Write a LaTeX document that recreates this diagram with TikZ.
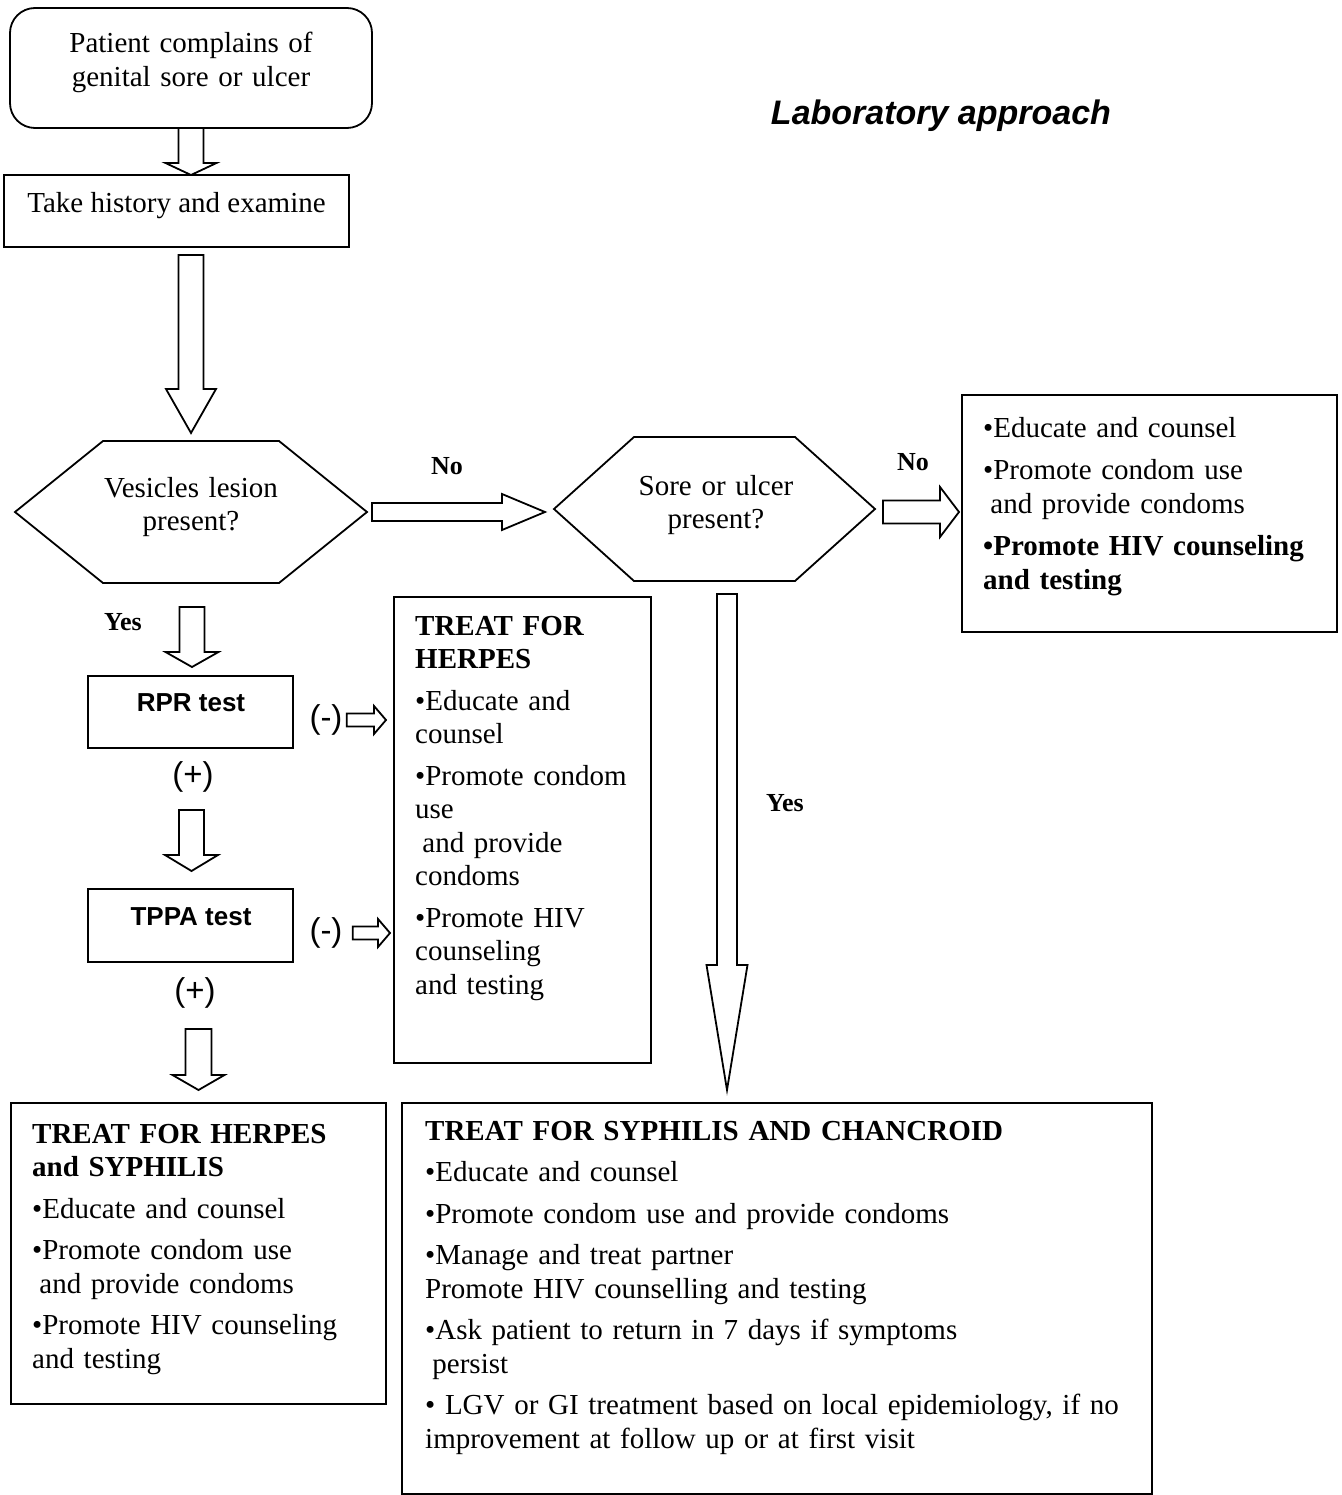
\documentclass[tikz,border=0pt]{standalone}
\usepackage{fontspec}
\setmainfont{Liberation Serif}
\newfontfamily\arialfont{Liberation Sans}
\usetikzlibrary{calc}

\tikzstyle{block} = [rectangle, draw, line width=1.8pt, inner sep=0pt, outer sep=0pt]
\tikzstyle{every node}=[font=\fontsize{29}{33.5}\selectfont]
\tikzstyle{boxtext} = [anchor=base west, align=left, inner sep=0pt]
\tikzstyle{centertext} = [anchor=base, align=center, inner sep=0pt]
\tikzstyle{branch} = [inner sep=0pt, font=\fontsize{26}{30}\selectfont\bfseries]
\tikzstyle{sign} = [inner sep=0pt, font=\fontsize{33}{38}\selectfont\arialfont]
\tikzstyle{testname} = [inner sep=0pt, font=\fontsize{26}{30}\selectfont\arialfont\bfseries]
\tikzstyle{hollow} = [draw, line width=1.8pt, line join=miter]

% hexagon drawn round a (frameless) node: name, corner cut
\newcommand{\hexframe}[2]{%
  \draw[hollow] (#1.west) -- ($(#1.north west)+(#2,0)$) -- ($(#1.north east)+(-#2,0)$)
    -- (#1.east) -- ($(#1.south east)+(-#2,0)$) -- ($(#1.south west)+(#2,0)$) -- cycle;}
% hollow block arrows: from, to, half shaft, half head, head length
\newcommand{\blockdown}[5]{%
  \draw[hollow] let \p1=#1, \p2=#2 in
    (\x1-#3,\y1) -- (\x1-#3,\y2+#5) -- (\x1-#4,\y2+#5) -- (\x1,\y2)
    -- (\x1+#4,\y2+#5) -- (\x1+#3,\y2+#5) -- (\x1+#3,\y1) -- cycle;}
\newcommand{\blockright}[5]{%
  \draw[hollow] let \p1=#1, \p2=#2 in
    (\x1,\y1-#3) -- (\x2-#5,\y1-#3) -- (\x2-#5,\y1-#4) -- (\x2,\y1)
    -- (\x2-#5,\y1+#4) -- (\x2-#5,\y1+#3) -- (\x1,\y1+#3) -- cycle;}

\begin{document}
\begin{tikzpicture}[x=1pt,y=-1pt]
	\useasboundingbox (0,0) rectangle (1341,1495);

	% frames
	\node[block, rounded corners=25pt, minimum width=362, minimum height=120] (start) at (191,68) {};
	\node[block, minimum width=345, minimum height=72] (take) at (176.5,211) {};
	\node[block, draw=none, minimum width=352, minimum height=142] (vesicle) at (191,512) {};
	\hexframe{vesicle}{88}
	\node[block, draw=none, minimum width=321, minimum height=144] (sore) at (714.5,509) {};
	\hexframe{sore}{80}
	\node[block, minimum width=375, minimum height=237] (edu) at (1149.5,513.5) {};
	\node[block, minimum width=205, minimum height=72] (rpr) at (190.5,712) {};
	\node[block, minimum width=205, minimum height=73] (tppa) at (190.5,925.5) {};
	\node[block, minimum width=257, minimum height=466] (herpes) at (522.5,830) {};
	\node[block, minimum width=375, minimum height=301] (herpsyph) at (198.5,1253.5) {};
	\node[block, minimum width=750, minimum height=391] (syphchan) at (777,1298.5) {};

	% texts
	\node[centertext, text width=340] (startText) at (191,53) {Patient complains of\\genital sore or ulcer};
	\node[centertext] (takeText) at (176.5,213) {Take history and examine};
	\node[centertext, text width=300] (vesicleText) at (191,497) {Vesicles lesion\\present?};
	\node[centertext, text width=300] (soreText) at (716,495) {Sore or ulcer\\present?};
	\node[anchor=base, inner sep=0pt, font=\fontsize{34}{40}\selectfont\arialfont\bfseries\itshape] (title) at (941,125) {Laboratory approach};
	\node[testname] (rprText) at (191,703) {RPR test};
	\node[testname] (tppaText) at (191,917) {TPPA test};

	\node[boxtext, text width=350] (eduText) at (983,437) {%
		•Educate and counsel\\[9pt]
		•Promote condom use\\
		\hspace*{0.25em}and provide condoms\\[9pt]
		\textbf{•Promote HIV counseling}\\
		\textbf{and testing}};
	\node[boxtext, text width=232] (herpesText) at (415,635) {%
		\textbf{TREAT FOR}\\
		\textbf{HERPES}\\[8pt]
		•Educate and\\
		counsel\\[8pt]
		•Promote condom\\
		use\\
		\hspace*{0.25em}and provide\\
		condoms\\[8pt]
		•Promote HIV\\
		counseling\\
		and testing};
	\node[boxtext, text width=350] (herpsyphText) at (32,1143) {%
		\textbf{TREAT FOR HERPES}\\
		\textbf{and SYPHILIS}\\[8pt]
		•Educate and counsel\\[8pt]
		•Promote condom use\\
		\hspace*{0.25em}and provide condoms\\[8pt]
		•Promote HIV counseling\\
		and testing};
	\node[boxtext, text width=720] (syphchanText) at (425,1140) {%
		\textbf{TREAT FOR SYPHILIS AND CHANCROID}\\[8pt]
		•Educate and counsel\\[8pt]
		•Promote condom use and provide condoms\\[8pt]
		•Manage and treat partner\\
		Promote HIV counselling and testing\\[8pt]
		•Ask patient to return in 7 days if symptoms\\
		\hspace*{0.25em}persist\\[8pt]
		• LGV or GI treatment based on local epidemiology, if no\\
		improvement at follow up or at first visit};

	% branch labels
	\node[branch] (noA) at (447,466) {No};
	\node[branch] (noB) at (913,462) {No};
	\node[branch] (yesA) at (123,622) {Yes};
	\node[branch] (yesB) at (785,803) {Yes};
	\node[sign] (minusA) at (326,720) {(-)};
	\node[sign] (minusB) at (326,933) {(-)};
	\node[sign] (plusA) at (193,777) {(+)};
	\node[sign] (plusB) at (195,993) {(+)};

	% block arrows
	\blockdown{(start.south)}{(take.north)}{12.5pt}{25.5pt}{12pt}
	\blockdown{($(take.south -| vesicle.north)+(0,8)$)}{($(vesicle.north)+(0,-8)$)}{12.5pt}{25pt}{44pt}
	\blockdown{($(vesicle.south)+(1,24)$)}{($(rpr.north)+(0,-9)$)}{12.5pt}{26.5pt}{15pt}
	\blockdown{($(rpr.south)+(1,62)$)}{($(tppa.north)+(0,-18)$)}{12.5pt}{26.5pt}{16pt}
	\blockdown{($(tppa.south -| herpsyph.north)+(0,67)$)}{($(herpsyph.north)+(0,-13)$)}{13pt}{26pt}{15pt}
	\blockdown{($(sore.south)+(12.5,13)$)}{($(syphchan.north)+(0,-13)$)}{10pt}{20.5pt}{125pt}
	\blockright{($(vesicle.east)+(5,0)$)}{($(sore.west)+(-9,0)$)}{9pt}{18pt}{43pt}
	\blockright{($(sore.east)+(8,3)$)}{($(edu.west)+(-3,0)$)}{11.5pt}{25pt}{19pt}
	\blockright{($(minusA.east)+(4,0)$)}{($(minusA.east -| herpes.west)+(-8,0)$)}{6.5pt}{14pt}{12pt}
	\blockright{($(minusB.east)+(10,0)$)}{($(minusB.east -| herpes.west)+(-4,0)$)}{6.5pt}{14pt}{12pt}
\end{tikzpicture}
\end{document}
